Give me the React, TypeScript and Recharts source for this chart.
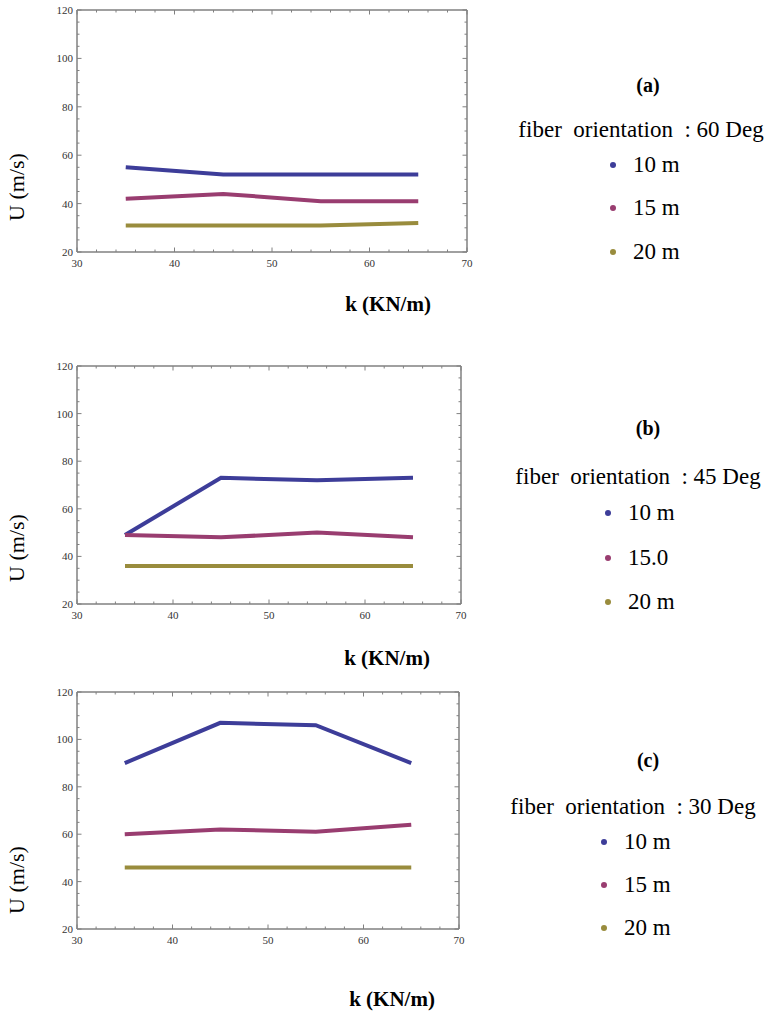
import { Line, LineChart, XAxis, YAxis } from "recharts";

// stiffness k (KN/m)
const K = [35, 45, 55, 65];

// U (m/s) — fiber orientation 60 deg
const U60_10 = [55, 52, 52, 52];
const U60_15 = [42, 44, 41, 41];
const U60_20 = [31, 31, 31, 32];

// fiber orientation 45 deg
const U45_10 = [49, 73, 72, 73];
const U45_15 = [49, 48, 50, 48];
const U45_20 = [36, 36, 36, 36];

// fiber orientation 30 deg
const U30_10 = [90, 107, 106, 90];
const U30_15 = [60, 62, 61, 64];
const U30_20 = [46, 46, 46, 46];

const X_MAJOR = [30, 40, 50, 60, 70];
const Y_MAJOR = [20, 40, 60, 80, 100, 120];

const COLORS = ["#3d3d99", "#993d70", "#998c3d"];
const FONT = "'Liberation Serif', 'Times New Roman', serif";
const FRAME = "#808080";

// major ticks plus evenly spaced minor ticks between them (frame decoration only)
function withMinor(major: number[], parts: number) {
  const out: number[] = [];
  for (let i = 0; i < major.length - 1; i++) {
    const step = (major[i + 1] - major[i]) / parts;
    for (let j = 0; j < parts; j++) out.push(major[i] + j * step);
  }
  out.push(major[major.length - 1]);
  return out;
}
const X_TICKS = withMinor(X_MAJOR, 5);
const Y_TICKS = withMinor(Y_MAJOR, 4);

// Mathematica-style frame tick: pointing inward, labelled on bottom/left only
// eslint-disable-next-line @typescript-eslint/no-explicit-any
function FrameTick({ x, y, payload, side }: any) {
  const v = payload?.value;
  const isX = side === "bottom" || side === "top";
  const major = (isX ? X_MAJOR : Y_MAJOR).includes(v);
  const len = major ? 4.5 : 2.5;
  let x2 = x;
  let y2 = y;
  if (side === "bottom") y2 = y - len;
  if (side === "top") y2 = y + len;
  if (side === "left") x2 = x + len;
  if (side === "right") x2 = x - len;
  return (
    <g>
      <line x1={x} y1={y} x2={x2} y2={y2} stroke={FRAME} strokeWidth={1} />
      {major && side === "bottom" && (
        <text x={x} y={y + 15} textAnchor="middle" fontSize={11} fill="#333" fontFamily={FONT}>
          {v}
        </text>
      )}
      {major && side === "left" && (
        <text x={x - 4} y={y + 4} textAnchor="end" fontSize={11} fill="#333" fontFamily={FONT}>
          {v}
        </text>
      )}
    </g>
  );
}

interface PanelProps {
  top: number;
  right: number;
  bottom: number;
  series: number[][];
}

function Panel({ top, right, bottom, series }: PanelProps) {
  const rows = K.map((k, i) => ({
    k,
    s10: series[0][i],
    s15: series[1][i],
    s20: series[2][i],
  }));
  const width = right + 15;
  const height = bottom - top + 10 + 20;
  return (
    <div style={{ position: "absolute", left: 0, top: top - 10 }}>
      <LineChart
        width={width}
        height={height}
        data={rows}
        margin={{ top: 9, right: 14, bottom: 0, left: 0 }}
      >
        <XAxis
          xAxisId="b"
          dataKey="k"
          type="number"
          domain={[30, 70]}
          ticks={X_TICKS}
          interval={0}
          height={20}
          tickSize={0}
          tickMargin={0}
          tickLine={false}
          axisLine={{ stroke: FRAME, strokeWidth: 1.5 }}
          tick={(p) => <FrameTick {...p} side="bottom" />}
        />
        <XAxis
          xAxisId="t"
          dataKey="k"
          orientation="top"
          type="number"
          domain={[30, 70]}
          ticks={X_TICKS}
          interval={0}
          height={1}
          tickSize={0}
          tickMargin={0}
          tickLine={false}
          axisLine={{ stroke: FRAME, strokeWidth: 1.5 }}
          tick={(p) => <FrameTick {...p} side="top" />}
        />
        <YAxis
          yAxisId="l"
          type="number"
          domain={[20, 120]}
          ticks={Y_TICKS}
          interval={0}
          width={77}
          tickSize={0}
          tickMargin={0}
          tickLine={false}
          axisLine={{ stroke: FRAME, strokeWidth: 1.5 }}
          tick={(p) => <FrameTick {...p} side="left" />}
        />
        <YAxis
          yAxisId="r"
          orientation="right"
          type="number"
          domain={[20, 120]}
          ticks={Y_TICKS}
          interval={0}
          width={1}
          tickSize={0}
          tickMargin={0}
          tickLine={false}
          axisLine={{ stroke: FRAME, strokeWidth: 1.5 }}
          tick={(p) => <FrameTick {...p} side="right" />}
        />
        {/* invisible series so the top/right frame axes are registered */}
        <Line
          xAxisId="t"
          yAxisId="r"
          dataKey="s20"
          stroke="none"
          dot={false}
          activeDot={false}
          legendType="none"
          isAnimationActive={false}
        />
        {["s10", "s15", "s20"].map((key, i) => (
          <Line
            key={key}
            xAxisId="b"
            yAxisId="l"
            dataKey={key}
            type="linear"
            stroke={COLORS[i]}
            strokeWidth={4}
            dot={false}
            isAnimationActive={false}
          />
        ))}
      </LineChart>
    </div>
  );
}

interface LegendProps {
  tag: string;
  angle: string;
  names: string[];
  tagY: number;
  headX: number;
  headY: number;
  dotX: number;
  itemY: number[];
}

function PanelLegend({ tag, angle, names, tagY, headX, headY, dotX, itemY }: LegendProps) {
  const base = { position: "absolute" as const, fontFamily: FONT, color: "#000", whiteSpace: "pre" as const };
  return (
    <>
      <div style={{ ...base, left: 648, top: tagY, transform: "translate(-50%, -50%)", fontSize: 20, fontWeight: "bold" }}>
        {tag}
      </div>
      <div style={{ ...base, left: headX, top: headY, transform: "translate(-50%, -50%)", fontSize: 23 }}>
        {`fiber  orientation  : ${angle} Deg`}
      </div>
      {names.map((n, i) => (
        <div key={n} style={{ ...base, left: dotX - 3, top: itemY[i], transform: "translateY(-50%)", fontSize: 23, display: "flex", alignItems: "center" }}>
          <span style={{ width: 6, height: 6, borderRadius: 3, background: COLORS[i], display: "inline-block", marginRight: 17 }} />
          <span style={{ fontFamily: FONT }}>{n}</span>
        </div>
      ))}
    </>
  );
}

function AxisTitles({ yCenter, xCenter, xTitleY }: { yCenter: number; xCenter: number; xTitleY: number }) {
  return (
    <>
      <div
        style={{
          position: "absolute",
          left: 17,
          top: yCenter,
          transform: "translate(-50%, -50%) rotate(-90deg)",
          fontFamily: FONT,
          fontSize: 22,
          whiteSpace: "pre",
        }}
      >
        U (m/s)
      </div>
      <div
        style={{
          position: "absolute",
          left: xCenter,
          top: xTitleY,
          transform: "translate(-50%, -50%)",
          fontFamily: FONT,
          fontSize: 21,
          fontWeight: "bold",
          whiteSpace: "pre",
        }}
      >
        k (KN/m)
      </div>
    </>
  );
}

export default function App() {
  return (
    <div style={{ position: "absolute", left: 0, top: 0, width: 774, height: 1013, background: "#fff" }}>
      <Panel top={10} right={467} bottom={252} series={[U60_10, U60_15, U60_20]} />
      <AxisTitles yCenter={187} xCenter={388} xTitleY={304} />
      <PanelLegend tag="(a)" angle="60" names={["10 m", "15 m", "20 m"]} tagY={85} headX={641} headY={130} dotX={613} itemY={[165, 208, 252]} />

      <Panel top={366} right={461} bottom={604} series={[U45_10, U45_15, U45_20]} />
      <AxisTitles yCenter={548} xCenter={387} xTitleY={658} />
      <PanelLegend tag="(b)" angle="45" names={["10 m", "15.0", "20 m"]} tagY={428} headX={638} headY={477} dotX={608} itemY={[513, 558, 602]} />

      <Panel top={692} right={459} bottom={929} series={[U30_10, U30_15, U30_20]} />
      <AxisTitles yCenter={880} xCenter={392} xTitleY={999} />
      <PanelLegend tag="(c)" angle="30" names={["10 m", "15 m", "20 m"]} tagY={760} headX={633} headY={807} dotX={604} itemY={[842, 885, 928]} />
    </div>
  );
}
